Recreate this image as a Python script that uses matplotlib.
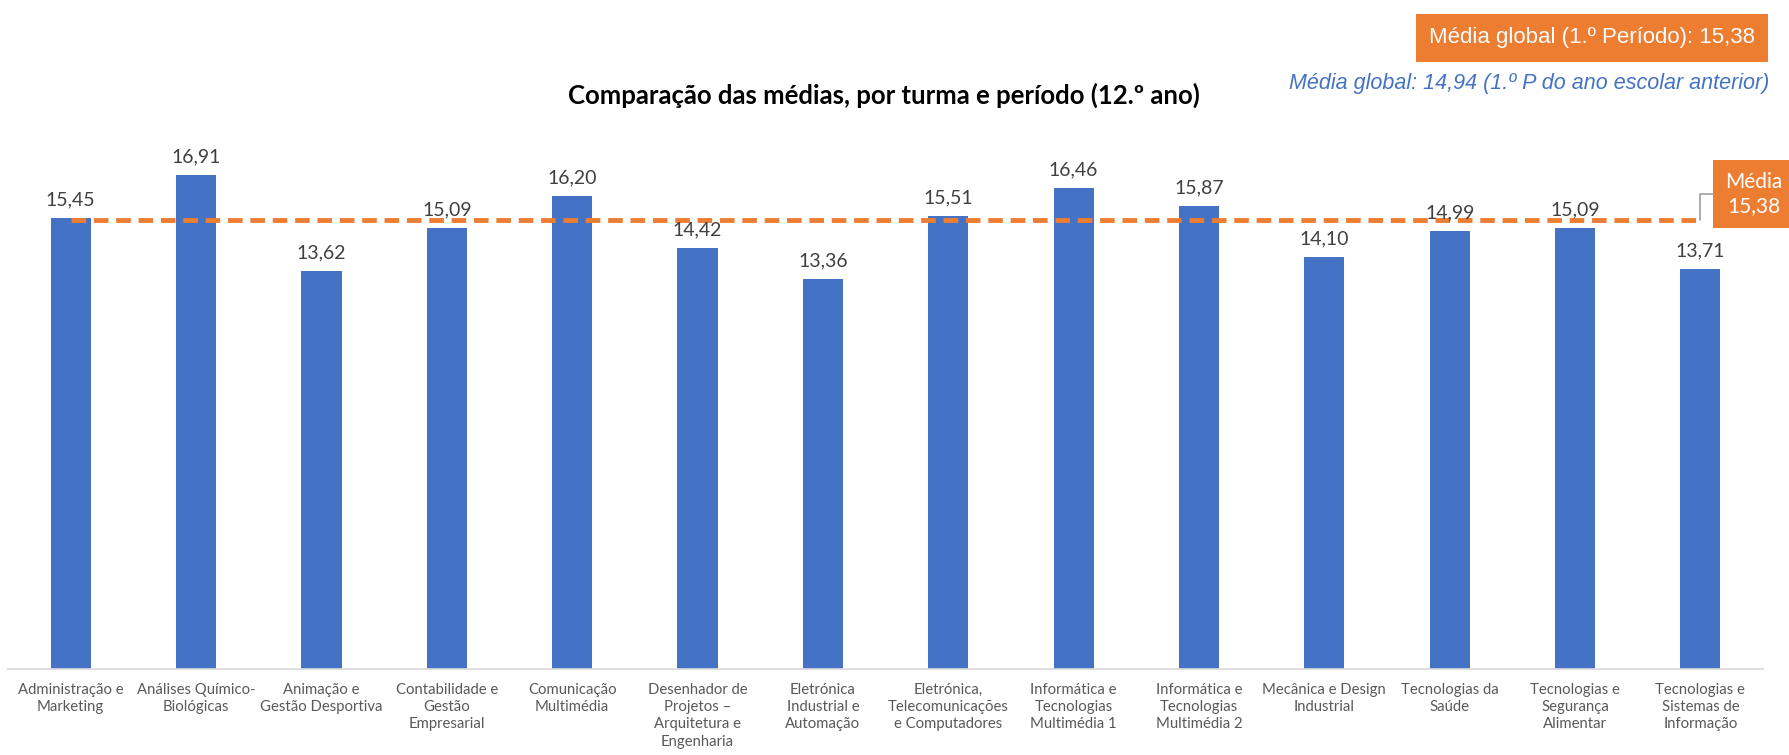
import matplotlib
matplotlib.use("Agg")
import matplotlib.pyplot as plt
import numpy as np

# data
turmas = [
    "Administração e\nMarketing",
    "Análises Químico-\nBiológicas",
    "Animação e\nGestão Desportiva",
    "Contabilidade e\nGestão\nEmpresarial",
    "Comunicação\nMultimédia",
    "Desenhador de\nProjetos –\nArquitetura e\nEngenharia",
    "Eletrónica\nIndustrial e\nAutomação",
    "Eletrónica,\nTelecomunicações\ne Computadores",
    "Informática e\nTecnologias\nMultimédia 1",
    "Informática e\nTecnologias\nMultimédia 2",
    "Mecânica e Design\nIndustrial",
    "Tecnologias da\nSaúde",
    "Tecnologias e\nSegurança\nAlimentar",
    "Tecnologias e\nSistemas de\nInformação",
]
medias = [15.45, 16.91, 13.62, 15.09, 16.20, 14.42, 13.36,
          15.51, 16.46, 15.87, 14.10, 14.99, 15.09, 13.71]
media_global = 15.38
media_anterior = 14.94

blue = '#4472C4'
orange = '#ED7D31'


def pt(v):
    return f"{v:.2f}".replace('.', ',')


plt.rcParams['font.family'] = ['Lato', 'DejaVu Sans']

fig = plt.figure(figsize=(17.89, 7.55), dpi=100)
ax = fig.add_axes([0.0045, 0.114, 0.981, 0.696])

x = np.arange(len(medias))
ax.bar(x, medias, width=0.32, color=blue, zorder=2)
ax.plot(x, [media_global] * len(x), color=orange, lw=3.5,
        linestyle=(0, (3, 1.6)), zorder=3)

for xi, v in zip(x, medias):
    ax.annotate(pt(v), (xi, v), xytext=(0, 7),
                textcoords='offset points', ha='center', va='bottom',
                fontsize=14, color='#404040')

ax.set_xlim(-0.5, len(x) - 0.5)
ax.set_ylim(0, 18)
ax.set_xticks(x)
ax.set_xticklabels(turmas, fontsize=10.7, color='#595959', linespacing=1.3)
ax.tick_params(axis='x', length=0, pad=10)
ax.set_yticks([])
for s in ['top', 'left', 'right']:
    ax.spines[s].set_visible(False)
ax.spines['bottom'].set_color('#D9D9D9')
ax.spines['bottom'].set_linewidth(1.2)

fig.text(0.494, 0.874, "Comparação das médias, por turma e período (12.º ano)",
         ha='center', va='center', fontsize=18.5, fontweight='bold', color='black')

# top-right boxes
fig.text(0.981, 0.95, f"Média global (1.º Período): {pt(media_global)}",
         ha='right', va='center', fontsize=16, color='white',
         family=['Liberation Sans Narrow', 'Liberation Sans'],
         bbox=dict(boxstyle='square,pad=0.6', fc=orange, ec='none'))
fig.text(0.989, 0.89, f"Média global: {pt(media_anterior)} (1.º P do ano escolar anterior)",
         ha='right', va='center', fontsize=15.5, color=blue, style='italic',
         family=['Liberation Sans Narrow', 'Liberation Sans'])

# data label for the average line
ax.annotate(f"Média\n{pt(media_global)}", xy=(len(x) - 1, media_global),
            xytext=(1754, 561), textcoords='figure pixels',
            ha='center', va='center', fontsize=15, color='white',
            linespacing=1.2, annotation_clip=False,
            bbox=dict(boxstyle='square,pad=0.6', fc=orange, ec='none'),
            arrowprops=dict(arrowstyle='-', color='#A6A6A6', lw=1.3,
                            shrinkA=0, shrinkB=0,
                            connectionstyle='angle,angleA=0,angleB=90,rad=0'))

fig.savefig("out.png", dpi=100)
